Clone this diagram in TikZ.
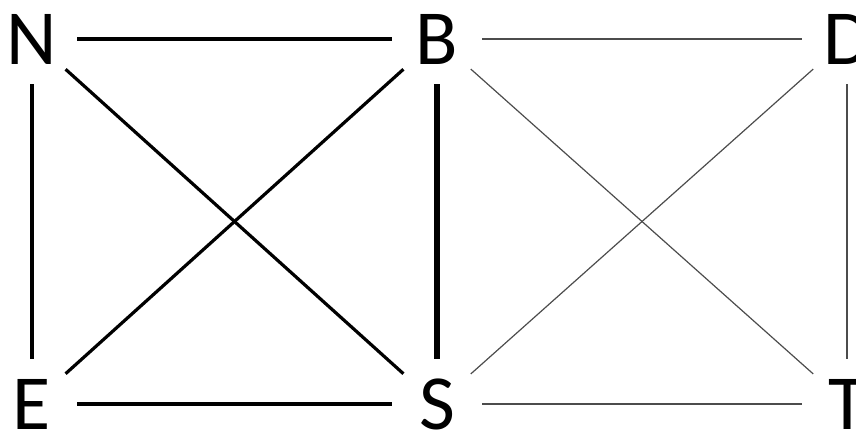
\documentclass[tikz,border=0pt]{standalone}
\usepackage{fontspec}
\setmainfont{Carlito}
\tikzset{
  letter/.style={circle, minimum size=90pt, inner sep=0pt, font=\fontsize{78}{80}\selectfont},
  heavy/.style={line width=3.2pt},
  heaviest/.style={line width=6pt},
  light/.style={line width=1.2pt, black!70}
}
\begin{document}
\begin{tikzpicture}[x=1pt, y=-1pt]
        \useasboundingbox (0,0) rectangle (856,430);
        
        \node[letter] (N) at (32, 39) {N};
        \node[letter] (B) at (437, 39) {B};
        \node[letter] (D) at (847, 39) {D};
        \node[letter] (E) at (32, 404) {E};
        \node[letter] (S) at (437, 404) {S};
        \node[letter] (T) at (847, 404) {T};
        
        % left square
        \draw[heavy] (N) -- (B);
        \draw[heavy] (E) -- (S);
        \draw[heavy] (N) -- (E);
        \draw[heavy] (N) -- (S);
        \draw[heavy] (E) -- (B);
        \draw[heaviest] (B) -- (S);
        
        % right square
        \draw[light] (B) -- (D);
        \draw[light] (S) -- (T);
        \draw[light] (D) -- (T);
        \draw[light] (B) -- (T);
        \draw[light] (S) -- (D);
    \end{tikzpicture}
\end{document}
